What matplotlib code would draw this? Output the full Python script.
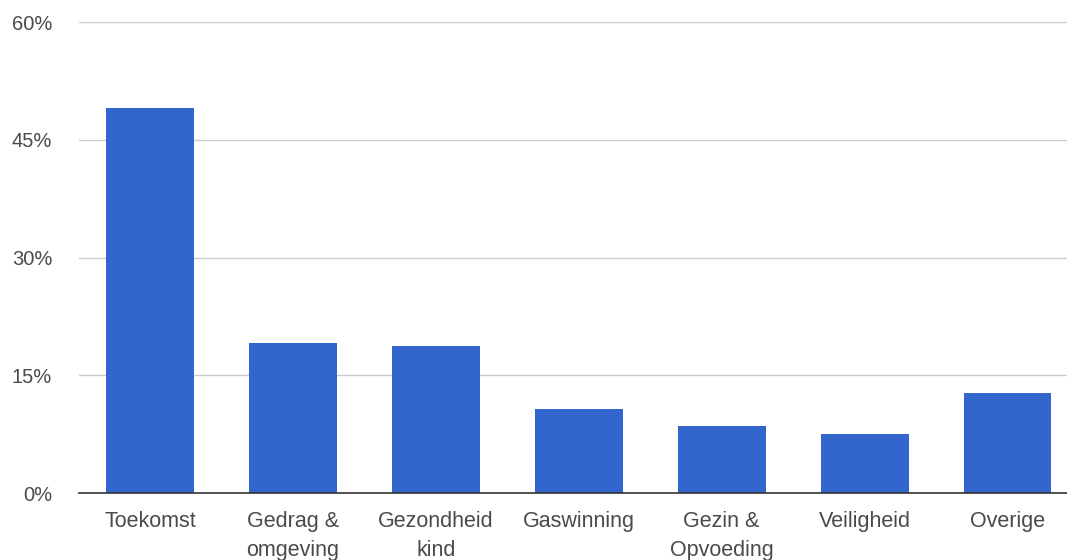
import numpy as np
import matplotlib.pyplot as plt
from matplotlib.ticker import FuncFormatter

categories = ["Toekomst", "Gedrag &\nomgeving", "Gezondheid\nkind", "Gaswinning",
              "Gezin &\nOpvoeding", "Veiligheid", "Overige"]
values = [49.0, 19.1, 18.7, 10.7, 8.6, 7.5, 12.8]
yticks = [0, 15, 30, 45, 60]

plt.rcParams['font.family'] = ['Liberation Sans', 'DejaVu Sans']

fig = plt.figure(figsize=(10.67, 5.6), dpi=100)
ax = fig.add_axes([78.5 / 1067, (560 - 493.3) / 560, 1 - 78.5 / 1067, (493.3 - 22) / 560])

x = np.arange(len(categories))
ax.bar(x, values, width=0.615, color='#3366cc', zorder=3)

ax.set_ylim(0, 60)
ax.set_xlim(-0.5, 6.5 - 12 / 143)
ax.set_yticks(yticks)
ax.yaxis.set_major_formatter(FuncFormatter(lambda v, p: f"{int(v)}%"))
ax.grid(axis='y', color='#cccccc', linewidth=1, zorder=0)
ax.set_xticks(x)
ax.set_xticklabels(categories, linespacing=1.45, fontsize=15.5)

for s in ['top', 'right', 'left']:
    ax.spines[s].set_visible(False)
ax.spines['bottom'].set_color('#333333')
ax.spines['bottom'].set_linewidth(1.2)
ax.spines['bottom'].set_zorder(4)

ax.tick_params(axis='both', length=0, colors='#4a4a4a')
ax.tick_params(axis='y', pad=19, labelsize=14.5)
ax.tick_params(axis='x', pad=13)

fig.savefig("out.png", dpi=100)
